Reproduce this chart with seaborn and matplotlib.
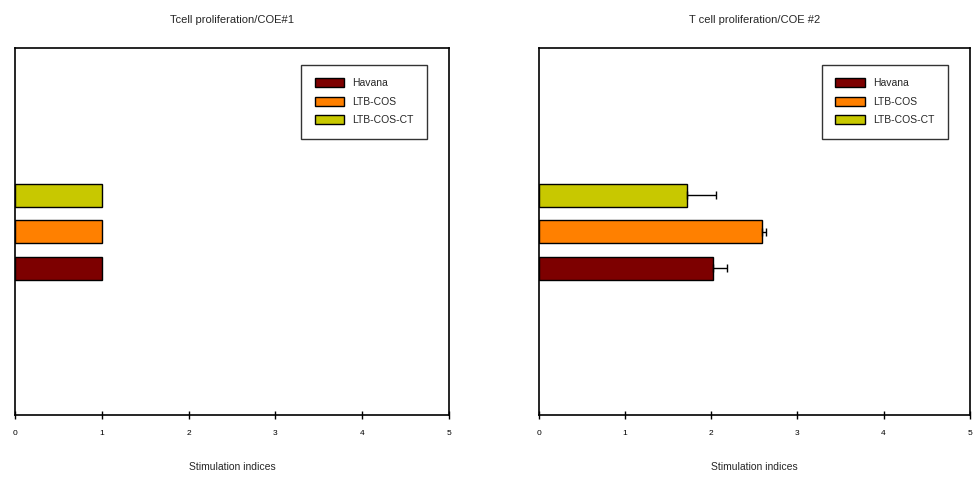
import matplotlib
matplotlib.use("Agg")
import matplotlib.pyplot as plt
import seaborn as sns
import pandas as pd
import numpy as np

# Groups, listed in legend order
groups = ["Havana", "LTB-COS", "LTB-COS-CT"]
# Stimulation indices per experiment
coe1_values = [1.0, 1.0, 1.0]
coe1_errors = [0.0, 0.0, 0.0]
coe2_values = [2.02, 2.59, 1.72]
coe2_errors = [0.16, 0.05, 0.34]

titles = ["Tcell proliferation/COE#1", "T cell proliferation/COE #2"]
xlabel = "Stimulation indices"
xticks = [0, 1, 2, 3, 4, 5]

palette = {"Havana": "#7d0000", "LTB-COS": "#ff8000", "LTB-COS-CT": "#c8c800"}
# Top-to-bottom order of the bars
bar_order = ["LTB-COS-CT", "LTB-COS", "Havana"]

sns.set_theme(style="white")
plt.rcParams["font.family"] = ["Liberation Sans", "DejaVu Sans"]

fig = plt.figure(figsize=(9.76, 4.79), dpi=100)
axes = [fig.add_axes([0.0154, 0.1336, 0.4447, 0.766]),
        fig.add_axes([0.552, 0.1336, 0.4416, 0.766])]

for ax, vals, errs, title in zip(axes, [coe1_values, coe2_values],
                                  [coe1_errors, coe2_errors], titles):
    df = pd.DataFrame({"group": groups, "value": vals, "err": errs})
    sns.barplot(data=df, y="group", x="value", hue="group", order=bar_order,
                hue_order=groups, palette=palette, dodge=False, width=0.63,
                saturation=1, edgecolor="black", linewidth=1.0,
                errorbar=None, ax=ax, legend=True)
    # one-sided error bars, only where a spread was measured
    shown = df[df["err"] > 0]
    if len(shown):
        pos = [bar_order.index(g) for g in shown["group"]]
        ax.errorbar(shown["value"], pos,
                    xerr=[np.zeros(len(shown)), shown["err"]],
                    fmt="none", ecolor="black", elinewidth=1.0, capsize=3,
                    capthick=1.0)
    ax.set_xlim(0, 5)
    ax.set_ylim(1 + 5.03, 1 - 5.03)
    ax.set_xticks(xticks)
    ax.set_xticklabels([str(t) for t in xticks], fontsize=6)
    ax.set_yticks([])
    ax.set_ylabel("")
    ax.set_xlabel(xlabel, fontsize=7.5, labelpad=18)
    ax.set_title(title, fontsize=8, pad=18)
    ax.tick_params(axis="x", direction="inout", length=6, width=1,
                   bottom=True, colors="black", pad=8)
    for s in ax.spines.values():
        s.set_visible(True)
        s.set_color("black")
        s.set_linewidth(1.2)
    leg = ax.legend(loc="upper right", bbox_to_anchor=(0.949, 0.955),
                    fontsize=7.5, frameon=True, fancybox=False,
                    edgecolor="black", handlelength=2.8, handleheight=0.95,
                    handletextpad=0.8, labelspacing=0.8, borderpad=1.3,
                    borderaxespad=0)
    leg.get_frame().set_linewidth(1.0)
    for h in leg.legend_handles:
        h.set_edgecolor("black")
        h.set_linewidth(1.0)

fig.savefig("out.png", dpi=100, facecolor="white")
